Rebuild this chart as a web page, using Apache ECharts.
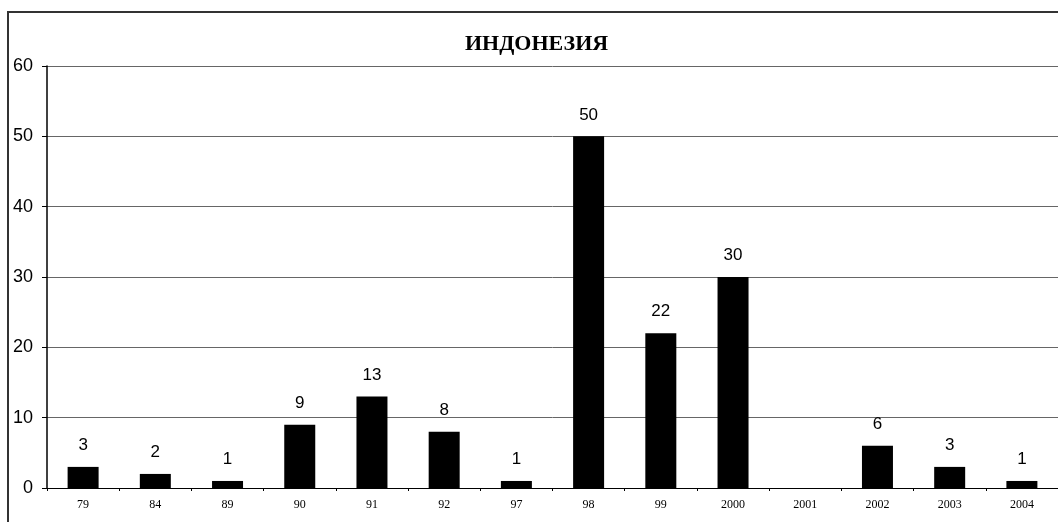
<!DOCTYPE html>
<html>
<head>
<meta charset="utf-8">
<script src="https://cdn.jsdelivr.net/npm/echarts@6/dist/echarts.min.js"></script>
<style>
  html, body { margin: 0; padding: 0; background: #fff; }
  #chart { width: 1058px; height: 522px; }
</style>
</head>
<body>
<div id="chart"></div>
<script>
var years = ['79', '84', '89', '90', '91', '92', '97', '98', '99', '2000', '2001', '2002', '2003', '2004']
var counts = [3, 2, 1, 9, 13, 8, 1, 50, 22, 30, null, 6, 3, 1]
var yTicks = { min: 0, max: 60, interval: 10 }

var chart = echarts.init(document.getElementById('chart'))
chart.setOption({
  animation: false,
  title: {
    text: 'ИНДОНЕЗИЯ',
    left: 460,
    top: 28,
    textStyle: {
      fontFamily: 'Liberation Serif',
      fontWeight: 'bold',
      fontSize: 22,
      color: '#000',
    },
  },
  graphic: [{
    type: 'rect',
    shape: { x: 8, y: 12, width: 1200, height: 700 },
    style: { fill: 'none', stroke: '#333', lineWidth: 2 },
    silent: true,
  }],
  grid: {
    left: 47,
    right: -13,
    top: 66,
    bottom: 34,
    containLabel: false,
  },
  xAxis: {
    type: 'category',
    data: years,
    axisLine: { lineStyle: { color: '#000', width: 1 } },
    axisTick: { show: true, length: 3, lineStyle: { color: '#000' } },
    axisLabel: {
      fontFamily: 'Liberation Serif',
      fontSize: 12,
      color: '#000',
      margin: 11,
    },
  },
  yAxis: {
    type: 'value',
    min: yTicks.min,
    max: yTicks.max,
    interval: yTicks.interval,
    axisLine: { show: true, lineStyle: { color: '#000', width: 1.5 } },
    axisTick: { show: true, length: 5, lineStyle: { color: '#000' } },
    axisLabel: {
      fontFamily: 'Liberation Sans',
      fontSize: 18,
      color: '#000',
      margin: 14,
    },
    splitLine: { lineStyle: { color: '#666', width: 1 } },
  },
  series: [{
    type: 'bar',
    data: counts,
    barWidth: 31,
    itemStyle: { color: '#000' },
    label: {
      show: true,
      position: 'top',
      distance: 13,
      fontFamily: 'Liberation Sans',
      fontSize: 17,
      color: '#000',
    },
  }],
})
</script>
</body>
</html>
